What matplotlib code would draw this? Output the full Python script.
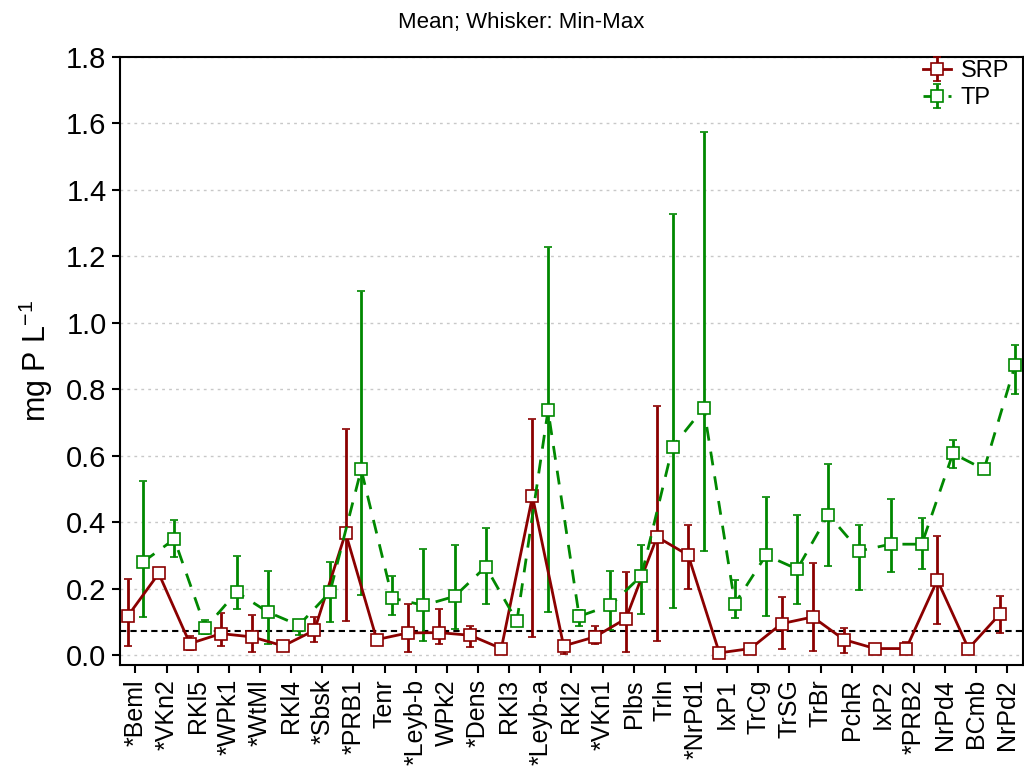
import numpy as np
import matplotlib.pyplot as plt

plt.rcParams['font.family'] = ['Liberation Sans', 'DejaVu Sans']
plt.rcParams['mathtext.default'] = 'regular'

sites = ['*Beml', '*VKn2', 'RKl5', '*WPk1', '*WtMl', 'RKl4', '*Sbsk', '*PRB1', 'Tenr',
         '*Leyb-b', 'WPk2', '*Dens', 'RKl3', '*Leyb-a', 'RKl2', '*VKn1', 'Plbs', 'Trln',
         '*NrPd1', 'IxP1', 'TrCg', 'TrSG', 'TrBr', 'PchR', 'IxP2', '*PRB2', 'NrPd4',
         'BCmb', 'NrPd2']

# SRP: mean, min, max
srp_mean = [0.117, 0.246, 0.035, 0.065, 0.055, 0.028, 0.075, 0.368, 0.047,
            0.067, 0.068, 0.060, 0.020, 0.478, 0.028, 0.055, 0.110, 0.356,
            0.301, 0.007, 0.020, 0.095, 0.115, 0.047, 0.020, 0.020, 0.226,
            0.020, 0.123]
srp_min = [0.027, 0.240, 0.015, 0.028, 0.010, 0.025, 0.040, 0.102, 0.042,
           0.010, 0.035, 0.025, 0.017, 0.055, 0.005, 0.035, 0.010, 0.042,
           0.198, 0.005, 0.018, 0.020, 0.012, 0.008, 0.018, 0.010, 0.093,
           0.018, 0.068]
srp_max = [0.229, 0.252, 0.058, 0.127, 0.120, 0.031, 0.115, 0.680, 0.052,
           0.155, 0.140, 0.088, 0.023, 0.712, 0.040, 0.088, 0.249, 0.750,
           0.391, 0.009, 0.022, 0.174, 0.278, 0.082, 0.022, 0.040, 0.358,
           0.022, 0.177]

# TP: mean, min, max
tp_mean = [0.281, 0.349, 0.082, 0.190, 0.130, 0.090, 0.190, 0.559, 0.172,
           0.150, 0.177, 0.266, 0.102, 0.737, 0.117, 0.150, 0.239, 0.627,
           0.744, 0.155, 0.301, 0.259, 0.423, 0.314, 0.334, 0.334, 0.607,
           0.559, 0.874]
tp_min = [0.115, 0.294, 0.065, 0.140, 0.035, 0.062, 0.100, 0.180, 0.120,
          0.042, 0.080, 0.155, 0.100, 0.130, 0.088, 0.075, 0.123, 0.143,
          0.314, 0.112, 0.117, 0.153, 0.269, 0.195, 0.250, 0.258, 0.563,
          0.557, 0.785]
tp_max = [0.524, 0.406, 0.107, 0.298, 0.253, 0.107, 0.279, 1.096, 0.239,
          0.321, 0.333, 0.384, 0.104, 1.228, 0.135, 0.253, 0.333, 1.327,
          1.574, 0.226, 0.476, 0.421, 0.574, 0.391, 0.469, 0.413, 0.647,
          0.561, 0.932]

ref_level = 0.072

red = '#8B0000'
green = '#008800'

fig = plt.figure(figsize=(10.24, 7.69), dpi=100)
ax = fig.add_axes([0.117, 0.135, 0.882, 0.791])

x = np.arange(len(sites))
srp_mean = np.array(srp_mean)
tp_mean = np.array(tp_mean)
srp_err = [srp_mean - np.array(srp_min), np.array(srp_max) - srp_mean]
tp_err = [tp_mean - np.array(tp_min), np.array(tp_max) - tp_mean]

ax.axhline(ref_level, color='black', lw=1.5, ls=(0, (3, 2)), zorder=1)

ax.errorbar(x - 0.25, srp_mean, yerr=srp_err, color=red, lw=2, elinewidth=2,
            capsize=3, capthick=2, marker='s', ms=9, mfc='white', mec=red,
            mew=1.2, label='SRP', zorder=3)
ax.errorbar(x + 0.25, tp_mean, yerr=tp_err, color=green, lw=2, ls=(0, (5, 4)),
            elinewidth=2, capsize=3, capthick=2, marker='s', ms=9, mfc='white',
            mec=green, mew=1.2, label='TP', zorder=3)

ax.set_xlim(-0.5, len(sites) - 0.5)
ax.set_ylim(-0.03, 1.8)
ax.set_yticks(np.arange(0, 1.81, 0.2))
ax.set_yticklabels([f'{v:.1f}' for v in np.arange(0, 1.81, 0.2)])
ax.set_xticks(x)
ax.set_xticklabels(sites, rotation=90, fontsize=18)
ax.tick_params(axis='y', labelsize=21, direction='out', length=6, width=1.5)
ax.tick_params(axis='x', direction='out', length=6, width=1.5, pad=4)
ax.tick_params(axis='y', which='both', right=True, labelright=False)
ax.grid(True, axis='y', color='#c8c8c8', ls=(0, (2, 3)), lw=1)
ax.set_axisbelow(True)
for s in ax.spines.values():
    s.set_linewidth(1.5)

ax.set_ylabel('mg P L$^{-1}$', fontsize=22, labelpad=8)
fig.text(0.509, 0.971, 'Mean; Whisker: Min-Max', fontsize=16,
         ha='center', va='center')

ax.legend(loc='upper right', frameon=False, fontsize=17, handlelength=1.2,
          borderaxespad=0.0, handletextpad=0.4, labelspacing=0.2,
          bbox_to_anchor=(0.995, 1.01))

fig.savefig('out.png', dpi=100)
